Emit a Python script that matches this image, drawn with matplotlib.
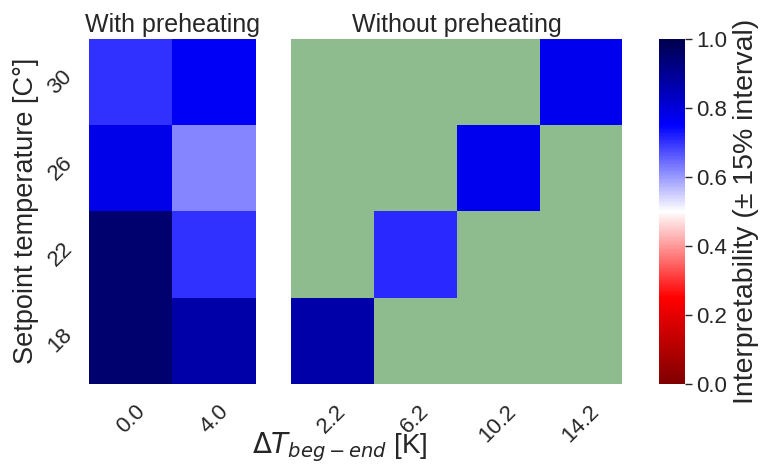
import numpy as np
import pandas as pd
import matplotlib
matplotlib.use('Agg')
import matplotlib.pyplot as plt
import seaborn as sns

setpoints = [30, 26, 22, 18]
dt_pre = ['0.0', '4.0']
dt_nopre = ['2.2', '6.2', '10.2', '14.2']

# interpretability, rows = setpoint (top to bottom), NaN = no data
with_pre = [[0.70, 0.76],
            [0.78, 0.62],
            [0.95, 0.70],
            [0.95, 0.87]]
without_pre = [[np.nan, np.nan, np.nan, 0.77],
               [np.nan, np.nan, 0.77, np.nan],
               [np.nan, 0.71, np.nan, np.nan],
               [0.87, np.nan, np.nan, np.nan]]

sns.set_style('white')
plt.rcParams['font.family'] = ['Liberation Sans', 'DejaVu Sans']
plt.rcParams['text.color'] = '.15'
plt.rcParams['axes.labelcolor'] = '.15'
plt.rcParams['xtick.color'] = '.15'
plt.rcParams['ytick.color'] = '.15'

fig = plt.figure(figsize=(7.61, 4.67), dpi=100)
ax1 = fig.add_axes([0.117, 0.178, 0.219, 0.739])
ax2 = fig.add_axes([0.382, 0.178, 0.436, 0.739])
cax = fig.add_axes([0.866, 0.178, 0.034, 0.739])

df1 = pd.DataFrame(with_pre, index=setpoints, columns=dt_pre)
df2 = pd.DataFrame(without_pre, index=setpoints, columns=dt_nopre)

sns.heatmap(df1, cmap='seismic_r', vmin=0, vmax=1, ax=ax1, cbar=False)
sns.heatmap(df2, cmap='seismic_r', vmin=0, vmax=1, ax=ax2, cbar_ax=cax)

for ax in (ax1, ax2):
    ax.set_facecolor('darkseagreen')
    ax.tick_params(axis='x', labelsize=16, rotation=45, length=0, pad=12)
ax1.tick_params(axis='y', labelsize=16, rotation=45, length=0, pad=9)
ax2.set_yticks([])

ax1.set_title('With preheating', fontsize=18, pad=5)
ax2.set_title('Without preheating', fontsize=18, pad=5)
ax1.set_ylabel('Setpoint temperature [C°]', fontsize=19.5, labelpad=4)

cb = ax2.collections[0].colorbar
cb.set_ticks([0.0, 0.2, 0.4, 0.6, 0.8, 1.0])
cb.ax.tick_params(labelsize=16, length=5, width=1, pad=3)
cb.set_label('Interpretability (± 15% interval)', fontsize=20.5)

fig.text(0.447, 0.043, r'$\Delta T_{beg-end}$ [K]', fontsize=20, ha='center', va='center')

fig.savefig('out.png', dpi=100)
